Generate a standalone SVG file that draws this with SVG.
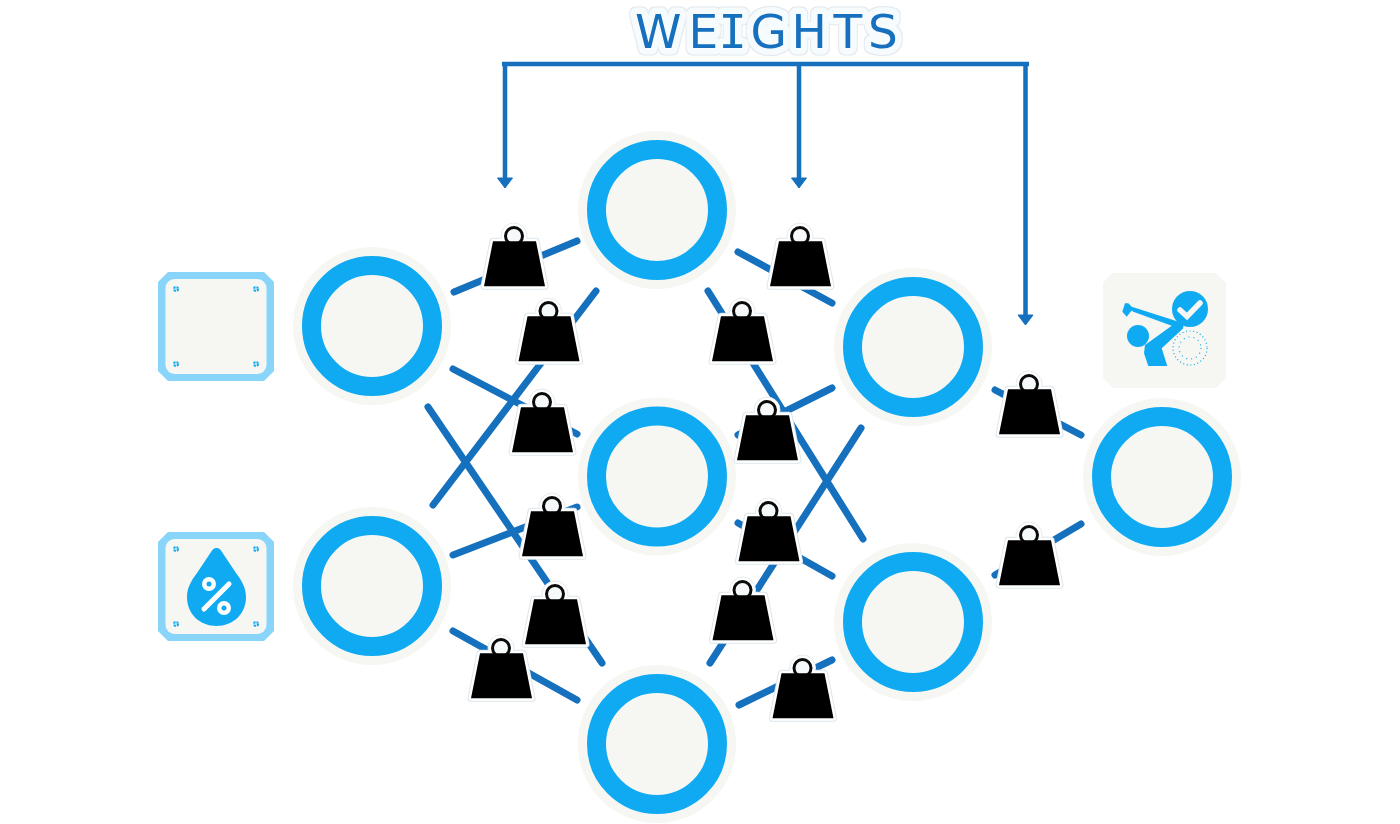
<svg xmlns="http://www.w3.org/2000/svg" xmlns:xlink="http://www.w3.org/1999/xlink" width="1400" height="824" viewBox="0 0 1400 824">
<style>
.halo{fill:#f6f7f3}
.ring{fill:#f6f7f3;stroke:#10aaf2;stroke-width:19}
.edge{fill:none;stroke:#1570bd;stroke-width:7;stroke-linecap:round}
.bar{fill:none;stroke:#1570bd;stroke-width:4.500}
.head{fill:#1570bd;stroke:#1570bd;stroke-width:1;stroke-linejoin:round}
.blue{fill:#10aaf2}
.pale{fill:#f6f7f3}
.mark{fill:none;stroke:#10aaf2;stroke-width:2.200;stroke-dasharray:2 1}
.title{font-family:"DejaVu Sans",sans-serif;font-size:47px;fill:#1570bd;stroke:#f6fbfd;stroke-width:13;stroke-linejoin:round;paint-order:stroke fill;filter:url(#titleHalo)}
.mono{font-family:"DejaVu Sans Mono",monospace}
</style>
<defs>
<filter id="titleHalo" x="-10%" y="-40%" width="120%" height="180%">
<feMorphology in="SourceAlpha" operator="dilate" radius="1" result="a"/>
<feFlood flood-color="#e3e9ee"/>
<feComposite in2="a" operator="in" result="edge"/>
<feMerge>
<feMergeNode in="edge"/>
<feMergeNode in="SourceGraphic"/>
</feMerge>
</filter>
<pattern id="dither" width="2" height="2" patternUnits="userSpaceOnUse">
<rect width="2" height="2" fill="#ffffff"/>
<rect width="1" height="1" fill="#10aaf2"/>
<rect x="1" y="1" width="1" height="1" fill="#10aaf2"/>
</pattern>
<g id="node">
<circle class="halo" r="79"/>
<circle class="ring" r="60.500"/>
</g>
<g id="weight">
<path d="M-21 5.200H22L31 50.200H-30Z" fill="#ffffff" stroke="#dce6ec" stroke-width="7" stroke-linejoin="round"/>
<circle r="13" fill="#ffffff" stroke="#e4ebef" stroke-width="1"/>
<path d="M-21 5.200H22L31 50.200H-30Z" fill="#ffffff" stroke="#ffffff" stroke-width="5" stroke-linejoin="round"/>
<circle r="8.500" fill="#f6f9fa" stroke="#0a0a0a" stroke-width="3"/>
<path d="M-21 5.200H22L31 50.200H-30Z" fill="#000000"/>
</g>
<g id="input">
<path d="M-48 -54.500H48L58 -44.500V44.500L48 54.500H-48L-58 44.500V-44.500Z" fill="url(#dither)"/>
<rect x="-50.500" y="-47.500" width="101" height="95" rx="9" class="pale"/>
<circle cx="-40" cy="-37.500" r="2" class="mark"/>
<circle cx="40" cy="-37.500" r="2" class="mark"/>
<circle cx="-40" cy="37.500" r="2" class="mark"/>
<circle cx="40" cy="37.500" r="2" class="mark"/>
</g>
</defs>
<rect width="1400" height="824" fill="#ffffff"/>

<g id="connectors">
<path class="edge" d="M454 292L577 241M453 369L577 434M428 407L602 663M433 505L596 291M453 555L577 507M453 631L577 700"/>
<path class="edge" d="M738 252L832 303M708 291L863 539M738 435L832 388M738 523L832 576M861 428L710 663M739 705L832 660"/>
<path class="edge" d="M995 390L1081 435M995 575L1081 524"/>
</g>

<g id="weights-bracket">
<path class="bar" d="M502 64H1029M505 64V180M799 64V180M1025.500 64V316"/>
<path class="head" d="M497.500 178H512.500L505 188ZM791.500 178H806.500L799 188ZM1018 315H1033L1025.500 325Z"/>
</g>

<g id="title">
<text class="title" y="48" x="635 688.400 718.500 750.400 791.400 833.500 868">WE<tspan class="mono">I</tspan>GHTS</text>
</g>

<g id="input-1">
<use xlink:href="#input" href="#input" transform="translate(216 326.500)"/>
</g>
<g id="input-2">
<use xlink:href="#input" href="#input" transform="translate(216 586.500)"/>
<path class="blue" d="M216.500 548C219 548 220.500 549.500 222 552L236 573C242 581 246 588 246 597C246 614 233 626 216.500 626C200 626 187 614 187 597C187 588 191 581 197 573L211 552C212.500 549.500 214 548 216.500 548Z"/>
<circle cx="209" cy="584" r="4.750" fill="#10aaf2" stroke="#ffffff" stroke-width="4.500"/>
<circle cx="224" cy="608" r="4.750" fill="#10aaf2" stroke="#ffffff" stroke-width="4.500"/>
<path d="M204 609L229 584" stroke="#ffffff" stroke-width="5" stroke-linecap="round"/>
</g>

<g id="output-icon">
<path class="pale" d="M1113 273H1216L1226 283V378L1216 388H1113L1103 378V283Z"/>
<circle class="blue" cx="1190" cy="309" r="18"/>
<path d="M1180 310L1187 316.500L1200 303" fill="none" stroke="#f6f7f3" stroke-width="5.500" stroke-linecap="round" stroke-linejoin="miter"/>
<circle class="blue" cx="1138" cy="336" r="11"/>
<path class="blue" d="M1128.300 303.300H1125L1122.300 311.700L1126.700 316.700L1131.700 310.500L1133.300 311.700L1171.700 325.700L1145 345L1144 353.300L1148.300 366H1167.300L1161.700 348.300L1183.300 328.300V323.300L1131.700 306.700Z"/>
<circle cx="1190" cy="348" r="17" fill="none" stroke="#10aaf2" stroke-width="1.200" stroke-dasharray="1 2.600"/>
<circle cx="1190" cy="348" r="11" fill="none" stroke="#10aaf2" stroke-width="1.200" stroke-dasharray="1 4"/>
</g>

<g id="node-input-1"><use xlink:href="#node" href="#node" x="372" y="326"/></g>
<g id="node-input-2"><use xlink:href="#node" href="#node" x="372" y="586"/></g>
<g id="node-h1-1"><use xlink:href="#node" href="#node" x="657" y="210"/></g>
<g id="node-h1-2"><use xlink:href="#node" href="#node" x="657" y="476.500"/></g>
<g id="node-h1-3"><use xlink:href="#node" href="#node" x="657" y="744"/></g>
<g id="node-h2-1"><use xlink:href="#node" href="#node" x="913" y="347"/></g>
<g id="node-h2-2"><use xlink:href="#node" href="#node" x="913" y="622"/></g>
<g id="node-output"><use xlink:href="#node" href="#node" x="1162" y="477"/></g>

<g id="weights">
<use xlink:href="#weight" href="#weight" x="514" y="236"/>
<use xlink:href="#weight" href="#weight" x="548.500" y="311"/>
<use xlink:href="#weight" href="#weight" x="542" y="402"/>
<use xlink:href="#weight" href="#weight" x="552" y="506"/>
<use xlink:href="#weight" href="#weight" x="555" y="594"/>
<use xlink:href="#weight" href="#weight" x="501" y="648"/>
<use xlink:href="#weight" href="#weight" x="800" y="236"/>
<use xlink:href="#weight" href="#weight" x="742" y="311"/>
<use xlink:href="#weight" href="#weight" x="767" y="410"/>
<use xlink:href="#weight" href="#weight" x="768.500" y="511"/>
<use xlink:href="#weight" href="#weight" x="742.500" y="590"/>
<use xlink:href="#weight" href="#weight" x="802.500" y="668"/>
<use xlink:href="#weight" href="#weight" x="1029" y="384"/>
<use xlink:href="#weight" href="#weight" x="1029" y="535"/>
</g>
</svg>
